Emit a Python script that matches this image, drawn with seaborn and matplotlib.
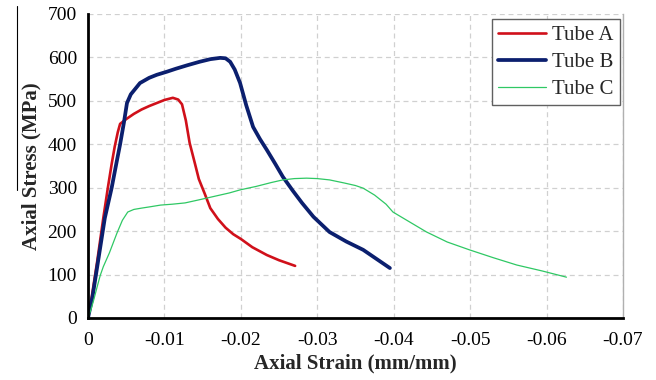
import matplotlib
matplotlib.use("Agg")
import matplotlib.pyplot as plt
from matplotlib.lines import Line2D
import numpy as np
import pandas as pd
import seaborn as sns

# Stress-strain curves for the three tubes (strain in mm/mm, stress in MPa)
strain_a = [0, -0.0005, -0.0012, -0.0020, -0.0026, -0.0031, -0.0035, -0.0039, -0.0042, -0.0050,
            -0.0060, -0.0070, -0.0080, -0.0090, -0.0100, -0.0111, -0.0118, -0.0123, -0.0128,
            -0.0133, -0.0140, -0.0145, -0.0153, -0.0160, -0.0170, -0.0180, -0.0190, -0.0200,
            -0.0215, -0.0234, -0.0250, -0.0271]
stress_a = [0, 50, 130, 230, 300, 355, 395, 428, 447, 458,
            470, 480, 488, 495, 502, 507, 503, 492, 455,
            403, 355, 320, 285, 253, 228, 208, 193, 182,
            163, 145, 133, 120]

strain_b = [0, -0.0006, -0.0014, -0.0022, -0.0031, -0.0037, -0.0042, -0.0047, -0.0051, -0.0056,
            -0.0062, -0.0068, -0.0080, -0.0090, -0.0103, -0.0115, -0.0130, -0.0146, -0.0160,
            -0.0173, -0.0180, -0.0186, -0.0192, -0.0199, -0.0207, -0.0216, -0.0225, -0.0234,
            -0.0245, -0.0255, -0.0268, -0.0280, -0.0295, -0.0316, -0.0338, -0.0360, -0.0380,
            -0.0395]
stress_b = [0, 50, 140, 230, 300, 355, 400, 450, 495, 515,
            528, 541, 553, 560, 567, 574, 582, 590, 596,
            599, 598, 590, 572, 541, 490, 440, 412, 387,
            355, 325, 293, 265, 233, 198, 176, 157, 133,
            115]

strain_c = [0, -0.0004, -0.0008, -0.0012, -0.0016, -0.0020, -0.0028, -0.0038, -0.0045, -0.0052,
            -0.0060, -0.0070, -0.0081, -0.0095, -0.0110, -0.0127, -0.0145, -0.0165, -0.0185,
            -0.0199, -0.0220, -0.0240, -0.0255, -0.0270, -0.0286, -0.0300, -0.0316, -0.0335,
            -0.0350, -0.0360, -0.0375, -0.0390, -0.0399, -0.0420, -0.0443, -0.0470, -0.0499,
            -0.0530, -0.0561, -0.0595, -0.0626]
stress_c = [0, 20, 45, 72, 98, 118, 150, 196, 225, 244,
            250, 253, 256, 260, 262, 265, 272, 280, 288,
            295, 303, 312, 318, 321, 322, 321, 318, 311,
            305, 299, 283, 262, 244, 222, 198, 175, 157,
            139, 122, 108, 94]

series = ["Tube A", "Tube B", "Tube C"]
colors = {"Tube A": "#d0101a", "Tube B": "#0b1f6e", "Tube C": "#2fc864"}
widths = {"Tube A": 1.9, "Tube B": 2.7, "Tube C": 0.9}

df = pd.concat([
    pd.DataFrame({"strain": strain_a, "stress": stress_a, "tube": "Tube A"}),
    pd.DataFrame({"strain": strain_b, "stress": stress_b, "tube": "Tube B"}),
    pd.DataFrame({"strain": strain_c, "stress": stress_c, "tube": "Tube C"}),
], ignore_index=True)

sns.set_theme(style="white")
plt.rcParams["font.family"] = ["Liberation Serif", "DejaVu Serif"]

fig = plt.figure(figsize=(6.56, 3.80), dpi=100)
ax = fig.add_axes([88 / 656, 1 - 318 / 380, 535 / 656, 304 / 380])

for name in series:
    sub = df[df["tube"] == name]
    sns.lineplot(data=sub, x="strain", y="stress", ax=ax, sort=False, estimator=None,
                 color=colors[name], linewidth=widths[name], label=name)

ax.set_xlim(0, -0.07)
ax.set_ylim(0, 700)
ax.set_xticks([0, -0.01, -0.02, -0.03, -0.04, -0.05, -0.06, -0.07])
ax.set_xticklabels(["0", "-0.01", "-0.02", "-0.03", "-0.04", "-0.05", "-0.06", "-0.07"])
ax.set_yticks(np.arange(0, 701, 100))

ax.grid(True, color="#d0d0d0", linestyle=(0, (4, 3)), linewidth=0.9)
ax.set_axisbelow(True)

for side in ("left", "bottom"):
    ax.spines[side].set_color("black")
    ax.spines[side].set_linewidth(2.0)
ax.spines["top"].set_visible(False)
ax.spines["right"].set_color("#b0b0b0")
ax.spines["right"].set_linewidth(1.0)

ax.tick_params(axis="both", which="major", direction="out", length=5, width=2.0,
               color="black", labelsize=14, labelcolor="black", pad=3)
ax.tick_params(axis="x", pad=5)

ax.set_xlabel("Axial Strain (mm/mm)", fontsize=15, fontweight="bold", labelpad=3)
ax.set_ylabel("Axial Stress (MPa)", fontsize=15, fontweight="bold", labelpad=4)

leg = ax.legend(loc="upper right", bbox_to_anchor=(0.994, 0.982), fontsize=15,
                frameon=True, fancybox=False, framealpha=1, borderpad=0.3,
                handlelength=2.3, handletextpad=0.3, labelspacing=0.35,
                borderaxespad=0)
leg.get_frame().set_edgecolor("#606060")
leg.get_frame().set_linewidth(1.0)

# thin vertical rule at the left edge of the figure
fig.add_artist(Line2D([17 / 656, 17 / 656], [1 - 6 / 380, 1 - 190 / 380],
                      color="black", linewidth=0.8, transform=fig.transFigure))

fig.savefig("out.png", dpi=100)
